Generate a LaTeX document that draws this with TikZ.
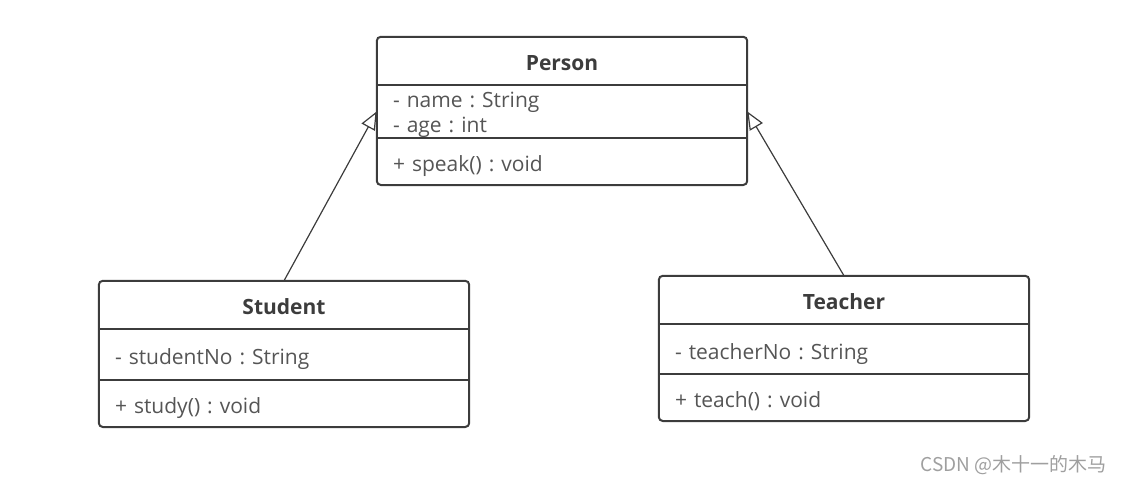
\documentclass[tikz,border=0pt]{standalone}
\usepackage{fontspec}
\setmainfont{Open Sans}
\newfontfamily\cjk{Noto Sans CJK SC}
\usetikzlibrary{positioning, arrows.meta}
\frenchspacing
\definecolor{umlline}{HTML}{3C3C3C}
\definecolor{umltext}{HTML}{555555}
\tikzset{>={Triangle[open,length=18pt,width=15pt]}}
\tikzset{
  classhead/.style={minimum width=370pt, minimum height=48pt, inner sep=0pt,
    text height=20pt, text depth=1pt,
    font=\bfseries\fontsize{21}{24}\selectfont, text=umlline},
  classpart/.style={minimum width=370pt, inner xsep=16pt, inner ysep=0pt,
    text width=338pt, align=left, text height=22pt, text depth=1.5pt,
    font=\fontsize{21}{25}\selectfont, text=umltext},
  frame/.style={draw=umlline, line width=2pt, rounded corners=4pt},
  divider/.style={draw=umlline, line width=2pt},
  inherit/.style={->, draw=umlline, line width=1.2pt},
}

\begin{document}
\begin{tikzpicture}[x=1pt, y=-1pt]
    \useasboundingbox (0,0) rectangle (1126,484);
    % Person
    \node[classhead] (person) at (562,61) {Person};
    \node[classpart, minimum height=52pt, text height=16pt, text depth=23.5pt, below=0pt of person] (person-a) {- name : String\\- age : int};
    \node[classpart, minimum height=47pt, below=0pt of person-a] (person-m) {+ speak() : void};
    \draw[frame] (person.north west) rectangle (person-m.south east);
    \draw[divider] (person.south west) -- (person.south east);
    \draw[divider] (person-a.south west) -- (person-a.south east);
    % Student
    \node[classhead] (student) at (284,305) {Student};
    \node[classpart, minimum height=50pt, below=0pt of student] (student-a) {- studentNo : String};
    \node[classpart, minimum height=47pt, below=0pt of student-a] (student-m) {+ study() : void};
    \draw[frame] (student.north west) rectangle (student-m.south east);
    \draw[divider] (student.south west) -- (student.south east);
    \draw[divider] (student-a.south west) -- (student-a.south east);
    % Teacher
    \node[classhead] (teacher) at (844,300) {Teacher};
    \node[classpart, minimum height=49pt, below=0pt of teacher] (teacher-a) {- teacherNo : String};
    \node[classpart, minimum height=47pt, below=0pt of teacher-a] (teacher-m) {+ teach() : void};
    \draw[frame] (teacher.north west) rectangle (teacher-m.south east);
    \draw[divider] (teacher.south west) -- (teacher.south east);
    \draw[divider] (teacher-a.south west) -- (teacher-a.south east);
    % generalisation
    \draw[inherit] (student.north) -- (person-a.west);
    \draw[inherit] (teacher.north) -- (person-a.east);
    \node[font=\cjk\fontsize{19}{19}\selectfont, text=gray!75, anchor=east] (mark) at (1110,465) {CSDN @木十一的木马};
\end{tikzpicture}
\end{document}
